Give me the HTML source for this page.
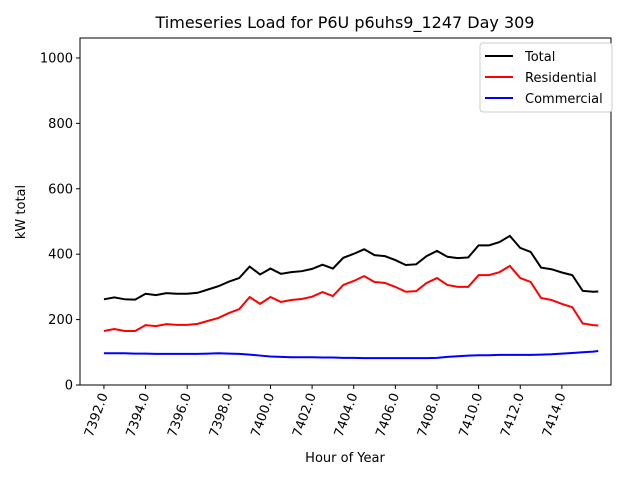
<!DOCTYPE html>
<html><head><meta charset="utf-8"><style>
body{margin:0;background:#fff;font-family:"DejaVu Sans","Liberation Sans",sans-serif}
svg text{font-family:"DejaVu Sans","Liberation Sans",sans-serif}
</style></head><body>
<svg id="c" width="640" height="480" xmlns="http://www.w3.org/2000/svg"></svg>
<script>
const hours=[7392,7392.5,7393,7393.5,7394,7394.5,7395,7395.5,7396,7396.5,7397,7397.5,7398,7398.5,7399,7399.5,7400,7400.5,7401,7401.5,7402,7402.5,7403,7403.5,7404,7404.5,7405,7405.5,7406,7406.5,7407,7407.5,7408,7408.5,7409,7409.5,7410,7410.5,7411,7411.5,7412,7412.5,7413,7413.5,7414,7414.5,7415,7415.5,7415.75];
const residential=[165,171,165,165,183,180,186,184,184,187,196,205,220,232,269,248,269,254,260,263,270,284,272,306,318,333,315,312,300,285,287,312,327,306,300,300,336,336,345,364,327,315,266,260,248,238,188,183,182];
const commercial=[97,97,97,96,96,95,95,95,95,95,96,97,96,95,93,90,87,86,85,85,85,84,84,83,83,82,82,82,82,82,82,82,83,86,88,90,91,91,92,92,92,92,93,94,96,98,100,102,104];
const total=[262,268,262,261,279,275,281,279,279,282,292,302,316,327,362,338,356,340,345,348,355,368,356,389,401,415,397,394,382,367,369,394,410,392,388,390,427,427,437,456,419,407,359,354,344,336,288,285,286];
const xTicks=[7392,7394,7396,7398,7400,7402,7404,7406,7408,7410,7412,7414];
const yTicks=[0,200,400,600,800,1000];
const L=80,R=611,T=38,B=385;
const xMin=7390.85,xMax=7416.36,yMax=1061;
const X=v=>L+(v-xMin)/(xMax-xMin)*(R-L);
const Y=v=>B-v/yMax*(B-T);
const svg=document.getElementById('c');
const NS='http://www.w3.org/2000/svg';
function mk(tag,attrs,parent){const e=document.createElementNS(NS,tag);for(const k in attrs)e.setAttribute(k,attrs[k]);(parent||svg).appendChild(e);return e;}
let t=mk('text',{x:345,y:28,'text-anchor':'middle','font-size':16});t.textContent='Timeseries Load for P6U p6uhs9_1247  Day 309';


const series=[[total,'#000','total-line'],[residential,'#f00','residential-line'],[commercial,'#00f','commercial-line']];
series.forEach(([d,c,n])=>{
  const p=mk('polyline',{points:d.map((v,i)=>X(hours[i])+','+Y(v)).join(' '),fill:'none',stroke:c,'stroke-width':2});
  
  
});
const frame=mk('rect',{x:L,y:T,width:R-L,height:B-T,fill:'none',stroke:'#000','stroke-width':1});


xTicks.forEach(v=>{
  const x=X(v);
  mk('line',{x1:x,x2:x,y1:B,y2:B+4,stroke:'#000'});
  const l=mk('text',{x:x+4,y:B+10,'font-size':13,'text-anchor':'end',transform:`rotate(-70 ${x+4} ${B+10})`});
  l.textContent=v.toFixed(1);
  
  
});
yTicks.forEach(v=>{
  const y=Y(v);
  mk('line',{x1:L-4,x2:L,y1:y,y2:y,stroke:'#000'});
  const l=mk('text',{x:L-7,y:y+4.5,'font-size':13,'text-anchor':'end'});
  l.textContent=v;
  
  
});
t=mk('text',{x:345,y:462,'text-anchor':'middle','font-size':13});t.textContent='Hour of Year';


t=mk('text',{x:25,y:212,'text-anchor':'middle','font-size':13,transform:'rotate(-90 25 212)'});t.textContent='kW total';


const lg=mk('g',{});


mk('rect',{x:480,y:43,width:132,height:69,rx:3,fill:'#fff',stroke:'#ccc'},lg);
[['Total','#000'],['Residential','#f00'],['Commercial','#00f']].forEach(([n,c],i)=>{
  const y=56+i*21;
  const g=mk('g',{},lg);
  
  
  mk('line',{x1:485,x2:513,y1:y,y2:y,stroke:c,'stroke-width':2},g);
  const tx=mk('text',{x:525,y:y+5,'font-size':13},g);tx.textContent=n;
});
</script>
</body></html>
